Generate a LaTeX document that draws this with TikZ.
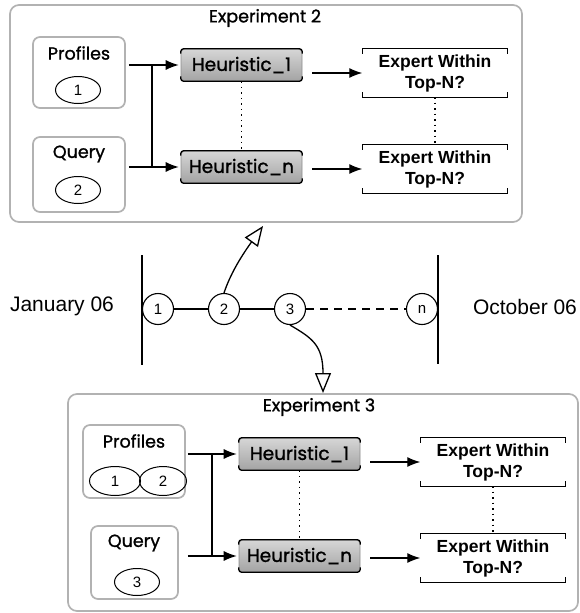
\documentclass[tikz,border=0pt]{standalone}
\usepackage{fontspec}
\setmainfont{Liberation Sans}
\newfontfamily\geofont[FakeBold=1.2]{Poppins}
\usetikzlibrary{arrows.meta,shapes.geometric}

% bracket-style top and bottom edges of a heuristic box
\newcommand\heurbrackets[1]{%
  \draw[bracketline, rounded corners=3pt] ([yshift=-5pt]#1.north west) |- (#1.north east) -- ([yshift=-5pt]#1.north east);
  \draw[bracketline, rounded corners=3pt] ([yshift=5pt]#1.south west) |- (#1.south east) -- ([yshift=5pt]#1.south east);}
% bracket-style top and bottom edges of an outcome box
\newcommand\expertbrackets[1]{%
  \draw[bracketline] ([yshift=-5pt]#1.north west) -- (#1.north west) -- (#1.north east) -- ([yshift=-5pt]#1.north east);
  \draw[bracketline] ([yshift=5pt]#1.south west) -- (#1.south west) -- (#1.south east) -- ([yshift=5pt]#1.south east);}

\begin{document}
\begin{tikzpicture}[x=1pt,y=-1pt,
  panelbox/.style={draw=black!30, line width=1.7pt, rounded corners=9pt, inner sep=0pt},
  srcbox/.style={draw=black!30, line width=1.7pt, rounded corners=7pt, inner sep=0pt},
  geolabel/.style={font=\geofont\fontsize{17.5}{20}\selectfont, inner sep=0pt},
  oval/.style={ellipse, draw, line width=1pt, minimum width=45pt, minimum height=27pt, inner sep=0pt, font=\fontsize{15}{17}\selectfont},
  tick/.style={circle, draw, line width=1.1pt, minimum size=31pt, inner sep=0pt, font=\fontsize{15}{17}\selectfont},
  heur/.style={rounded corners=4pt, top color=black!16, bottom color=black!36, draw=black!45, line width=0.6pt,
    minimum width=121pt, minimum height=32pt, inner sep=0pt, font=\geofont\fontsize{18.5}{20}\selectfont},
  expert/.style={minimum width=145pt, minimum height=48pt, inner sep=0pt, align=center,
    font=\bfseries\fontsize{17.5}{21}\selectfont},
  bracketline/.style={line width=1.3pt},
  feed/.style={line width=1.2pt, -{Latex[length=13pt,width=10pt]}},
  link/.style={line width=1.2pt},
  dotlink/.style={line width=1.2pt, dash pattern=on 1.5pt off 4pt},
  jump/.style={line width=1.3pt, -{Triangle[open, length=20pt, width=16pt, line width=1.3pt]}},
  datelabel/.style={font=\fontsize{21}{24}\selectfont, inner sep=0pt}]

\useasboundingbox (0,0) rectangle (580,613);

% ---------- Experiment 2 ----------
\node[panelbox, minimum width=512pt, minimum height=217pt] (p2) at (266,113.5) {};
\node[geolabel] (p2title) at (265,18) {Experiment 2};
\node[srcbox, minimum width=92pt, minimum height=71pt] (p2prof) at (79,72.5) {};
\node[geolabel] (p2proflbl) at (79,53) {Profiles};
\node[oval] (p2o1) at (78,90) {1};
\node[srcbox, minimum width=92pt, minimum height=75pt] (p2query) at (79,174.5) {};
\node[geolabel] (p2querylbl) at (79,154) {Query};
\node[oval] (p2o2) at (78,190) {2};
\node[heur] (p2h1) at (241.5,65) {Heuristic\_1};
\node[heur] (p2hn) at (241.5,167) {Heuristic\_n};
\heurbrackets{p2h1}
\heurbrackets{p2hn}
\node[expert] (p2e1) at (435,73) {Expert Within\\Top-N?};
\node[expert] (p2en) at (435,169) {Expert Within\\Top-N?};
\expertbrackets{p2e1}
\expertbrackets{p2en}
\coordinate (p2jt) at (152,65);
\coordinate (p2jb) at (152,167);
\draw[feed, shorten <=3pt, shorten >=2pt] (p2prof.east |- p2h1.west) -- (p2h1.west);
\draw[feed, shorten <=3pt, shorten >=2pt] (p2query.east |- p2hn.west) -- (p2hn.west);
\draw[link] (p2jt) -- (p2jb);
\draw[feed, shorten <=10pt] (p2h1.east |- p2e1.west) -- (p2e1.west);
\draw[feed, shorten <=10pt] (p2hn.east |- p2en.west) -- (p2en.west);
\draw[dotlink] (p2h1.south) -- (p2hn.north);
\draw[dotlink] (p2e1.south) -- (p2en.north);

% ---------- time line ----------
\node[datelabel] (jan) at (62,306) {January 06};
\node[datelabel] (oct) at (525,307) {October 06};
\coordinate (startt) at (142,255);
\coordinate (startb) at (142,365);
\coordinate (endt) at (438,255);
\coordinate (endb) at (438,364);
\draw[link] (startt) -- (startb);
\draw[link] (endt) -- (endb);
\node[tick] (c1) at (158,309) {1};
\node[tick] (c2) at (224,309) {2};
\node[tick] (c3) at (290,309) {3};
\node[tick] (cn) at (422,309) {n};
\draw[link] (c1) -- (c2);
\draw[link] (c2) -- (c3);
\draw[link, dash pattern=on 8pt off 6pt] (c3) -- (cn);
\coordinate (up) at (263,226);
\coordinate (down) at (323,393);
\draw[jump] (c2.north) .. controls (230,275) and (240,258) .. (up);
\draw[jump] (c3.south) .. controls (312,338) and (323,345) .. (down);

% ---------- Experiment 3 ----------
\begin{scope}[shift={(58,389)}]
\node[panelbox, minimum width=510pt, minimum height=217pt] (p3) at (265,113.5) {};
\node[geolabel] (p3title) at (261,18) {Experiment 3};
\node[srcbox, minimum width=102pt, minimum height=73pt] (p3prof) at (76,72.5) {};
\node[geolabel] (p3proflbl) at (76,52) {Profiles};
\node[oval, minimum width=51pt, minimum height=29pt] (p3o1) at (57,92) {1};
\node[oval, minimum width=47pt, minimum height=29pt] (p3o2) at (105,92) {2};
\node[srcbox, minimum width=87pt, minimum height=73pt] (p3query) at (76.5,173.5) {};
\node[geolabel] (p3querylbl) at (76,154) {Query};
\node[oval] (p3o3) at (79,193) {3};
\node[heur] (p3h1) at (241.5,65) {Heuristic\_1};
\node[heur] (p3hn) at (241.5,167) {Heuristic\_n};
\heurbrackets{p3h1}
\heurbrackets{p3hn}
\node[expert] (p3e1) at (435,73) {Expert Within\\Top-N?};
\node[expert] (p3en) at (435,169) {Expert Within\\Top-N?};
\expertbrackets{p3e1}
\expertbrackets{p3en}
\coordinate (p3jt) at (154,65);
\coordinate (p3jb) at (154,167);
\draw[feed, shorten <=2pt, shorten >=2pt] (p3prof.east |- p3h1.west) -- (p3h1.west);
\draw[feed, shorten <=9pt, shorten >=2pt] (p3query.east |- p3hn.west) -- (p3hn.west);
\draw[link] (p3jt) -- (p3jb);
\draw[feed, shorten <=10pt] (p3h1.east |- p3e1.west) -- (p3e1.west);
\draw[feed, shorten <=10pt] (p3hn.east |- p3en.west) -- (p3en.west);
\draw[dotlink] (p3h1.south) -- (p3hn.north);
\draw[dotlink] (p3e1.south) -- (p3en.north);
\end{scope}
\end{tikzpicture}
\end{document}
